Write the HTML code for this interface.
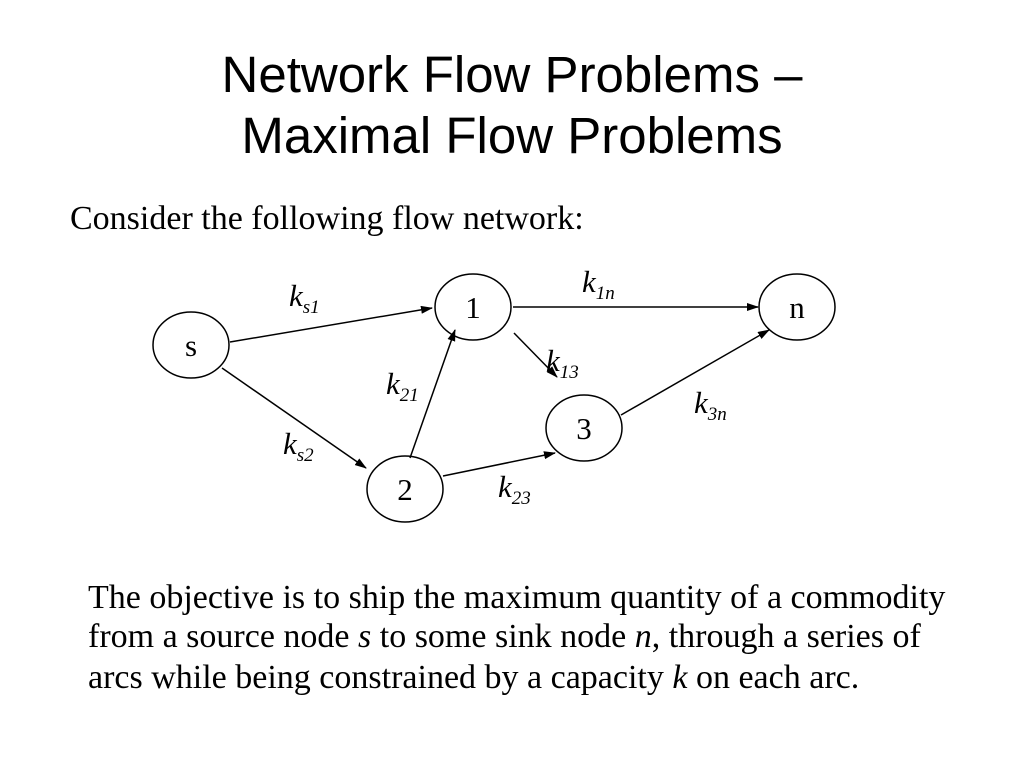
<!DOCTYPE html>
<html><head><style>
body{margin:0;background:#fff;}
</style></head><body>
<svg width="1024" height="768" xmlns="http://www.w3.org/2000/svg">
<defs><marker id="a" markerWidth="12" markerHeight="8" refX="11" refY="4" orient="auto" markerUnits="userSpaceOnUse"><path d="M0,0 L12,4 L0,8 Z" fill="#000"/></marker></defs>
<g font-family="Liberation Sans, sans-serif" font-size="51" text-anchor="middle" fill="#000">
<text x="512" y="92">Network Flow Problems –</text>
<text x="512" y="153">Maximal Flow Problems</text>
</g>
<text x="70" y="229" font-family="Liberation Serif, serif" font-size="34">Consider the following flow network:</text>
<g fill="none" stroke="#000" stroke-width="1.5">
<ellipse cx="191" cy="345" rx="38" ry="33"/>
<ellipse cx="473" cy="307" rx="38" ry="33"/>
<ellipse cx="797" cy="307" rx="38" ry="33"/>
<ellipse cx="584" cy="428" rx="38" ry="33"/>
<ellipse cx="405" cy="489" rx="38" ry="33"/>
<line x1="230" y1="342" x2="432" y2="308" marker-end="url(#a)"/>
<line x1="222" y1="368" x2="366" y2="468" marker-end="url(#a)"/>
<line x1="410" y1="458" x2="455" y2="330" marker-end="url(#a)"/>
<line x1="514" y1="333" x2="557" y2="377" marker-end="url(#a)"/>
<line x1="513" y1="307" x2="758" y2="307" marker-end="url(#a)"/>
<line x1="443" y1="476" x2="555" y2="453" marker-end="url(#a)"/>
<line x1="621" y1="415" x2="769" y2="330" marker-end="url(#a)"/>
</g>
<g font-family="Liberation Serif, serif" font-size="31" text-anchor="middle">
<text x="191" y="356">s</text>
<text x="473" y="318">1</text>
<text x="797" y="318">n</text>
<text x="584" y="439">3</text>
<text x="405" y="500">2</text>
</g>
<g font-family="Liberation Serif, serif" font-size="31" font-style="italic">
<text x="289" y="306">k<tspan font-size="19" dy="7">s1</tspan></text>
<text x="582" y="292">k<tspan font-size="19" dy="7">1n</tspan></text>
<text x="546" y="371">k<tspan font-size="19" dy="7">13</tspan></text>
<text x="386" y="394">k<tspan font-size="19" dy="7">21</tspan></text>
<text x="694" y="413">k<tspan font-size="19" dy="7">3n</tspan></text>
<text x="283" y="454">k<tspan font-size="19" dy="7">s2</tspan></text>
<text x="498" y="497">k<tspan font-size="19" dy="7">23</tspan></text>
</g>
<g font-family="Liberation Serif, serif" font-size="34">
<text x="88" y="608">The objective is to ship the maximum quantity of a commodity</text>
<text x="88" y="647">from a source node <tspan font-style="italic">s</tspan> to some sink node <tspan font-style="italic">n</tspan>, through a series of</text>
<text x="88" y="688">arcs while being constrained by a capacity <tspan font-style="italic">k</tspan> on each arc.</text>
</g>
</svg>
</body></html>
